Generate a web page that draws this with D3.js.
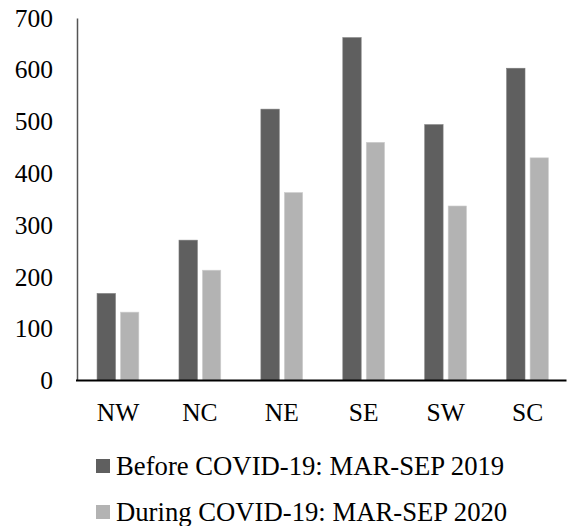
<!DOCTYPE html>
<html>
<head>
<meta charset="utf-8">
<script src="https://cdn.jsdelivr.net/npm/d3@7"></script>
<style>
  html, body { margin: 0; padding: 0; background: #fff; }
  svg { display: block; }
  text { font-family: "Liberation Serif", "Times New Roman", serif; fill: #000; }
</style>
</head>
<body>
<svg id="chart" width="569" height="526"></svg>
<script>
const categories = ["NW", "NC", "NE", "SE", "SW", "SC"];
const seriesNames = ["Before COVID-19: MAR-SEP 2019", "During COVID-19: MAR-SEP 2020"];
const before2019 = [168, 271, 524, 662, 494, 603];
const during2020 = [132, 213, 363, 460, 337, 430];
const yTicks = [0, 100, 200, 300, 400, 500, 600, 700];
const colors = ["#5f5f5f", "#b3b3b3"];

const svg = d3.select("#chart");
const x0 = 77, x1 = 568.5, yTop = 18, yBot = 380.5;

const x = d3.scaleBand().domain(categories).range([x0, x1]).paddingInner(0).paddingOuter(0);
const y = d3.scaleLinear().domain([0, 700]).range([yBot, yTop]);
const bw = x.bandwidth();
const barW = bw * 0.224;
const gap = bw * 0.062;
const sub = d3.scaleOrdinal().domain([0, 1]).range([bw / 2 - gap / 2 - barW, bw / 2 + gap / 2]);

const series = [before2019, during2020];
series.forEach((vals, si) => {
  svg.append("g").selectAll("rect").data(vals).join("rect")
    .attr("x", (d, i) => x(categories[i]) + sub(si))
    .attr("y", d => y(d))
    .attr("width", barW)
    .attr("height", d => y(0) - y(d))
    .attr("fill", colors[si])
    .attr("stroke", si === 0 ? "#7a7a7a" : "#cfcfcf")
    .attr("stroke-width", 0.6);
});

// Y axis
const yAxis = d3.axisLeft(y).tickValues(yTicks).tickSize(0).tickPadding(24).tickFormat(d3.format("d"));
const gy = svg.append("g").attr("transform", `translate(${x0},0)`).call(yAxis);
gy.select(".domain").attr("stroke", "#555").attr("stroke-width", 1.5);
gy.selectAll("text").attr("font-size", 25.5).attr("font-family", "Liberation Serif").attr("fill", "#000");

// X axis
const xAxis = d3.axisBottom(x).tickSize(0).tickPadding(0);
const gx = svg.append("g").attr("transform", `translate(0,${yBot})`).call(xAxis);
gx.select(".domain").attr("stroke", "#000").attr("stroke-width", 2).attr("d", `M${x0 - 1},0H${x1 - 2}`);
gx.selectAll("text").attr("font-size", 25.5).attr("font-family", "Liberation Serif").attr("fill", "#000")
  .attr("dy", null).attr("y", 40.5);

// Legend
const legend = svg.append("g");
seriesNames.forEach((name, i) => {
  const by = 475 + i * 46;
  legend.append("rect").attr("x", 96).attr("y", by - 16).attr("width", 14).attr("height", 14).attr("fill", colors[i]);
  legend.append("text").attr("x", 116).attr("y", by).attr("font-size", 26.7).text(name);
});
</script>
</body>
</html>
